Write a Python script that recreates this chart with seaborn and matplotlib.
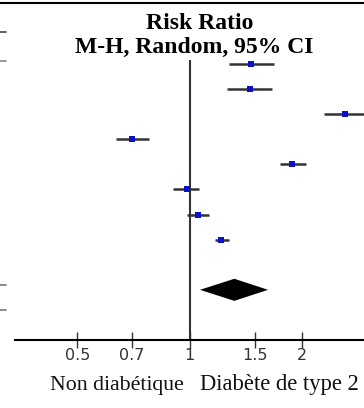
import matplotlib
matplotlib.use("Agg")
import matplotlib.pyplot as plt
from matplotlib.lines import Line2D
from matplotlib.ticker import NullLocator
import seaborn as sns
import pandas as pd

# ---- data (risk ratios) ----
rows = [0, 1, 2, 3, 4, 5, 6, 7]
rr = [1.461, 1.449, 2.611, 0.702, 1.882, 0.984, 1.053, 1.214]
ci_low = [1.278, 1.262, 2.298, 0.634, 1.748, 0.901, 0.982, 1.170]
ci_high = [1.684, 1.667, 2.967, 0.780, 2.052, 1.062, 1.129, 1.276]
pooled_row = 9
pooled_rr = 1.318
pooled_low = 1.066
pooled_high = 1.623
ticks = [0.5, 0.7, 1, 1.5, 2]
tick_labels = ["0.5", "0.7", "1", "1.5", "2"]
title_lines = ["Risk Ratio", "M-H, Random, 95% CI"]
left_label = "Non diabétique"
right_label = "Diabète de type 2"

df = pd.DataFrame({"row": rows, "rr": rr, "lo": ci_low, "hi": ci_high})

sns.set_theme(style="white")
plt.rcParams["font.family"] = ["DejaVu Sans"]

W, H = 364, 408
fig = plt.figure(figsize=(W / 100, H / 100), dpi=100)
fig.patch.set_facecolor("white")
ax = fig.add_axes([15 / W, 1 - 340 / H, 349 / W, 280 / H])
ax.set_facecolor("white")
ax.set_xscale("log")

ax.hlines(df["row"], df["lo"], df["hi"], color="#333333", lw=1.8, zorder=2)
sns.scatterplot(data=df, x="rr", y="row", marker="s", s=24, color="#0a12c8",
                linewidth=0, ax=ax, zorder=3, legend=False)
ax.fill([pooled_low, pooled_rr, pooled_high, pooled_rr],
        [pooled_row, pooled_row - 0.44, pooled_row, pooled_row + 0.44],
        color="black", lw=0, zorder=3)
ax.axvline(1, color="#333333", lw=1.5, zorder=1)

ax.set_xlim(0.340, 2.936)
ax.set_ylim(11.0, -0.16)
for s in ["top", "right", "left"]:
    ax.spines[s].set_visible(False)
ax.spines["bottom"].set_color("black")
ax.spines["bottom"].set_linewidth(1.5)
ax.set_xticks(ticks)
ax.set_xticklabels(tick_labels)
ax.xaxis.set_minor_locator(NullLocator())
ax.set_yticks([])
ax.set_xlabel("")
ax.set_ylabel("")
ax.tick_params(axis="x", direction="inout", length=12, width=1, pad=0,
               labelsize=11.5, colors="#333333", bottom=True)

serif = ["Liberation Serif", "DejaVu Serif"]
fig.text(200 / W, 1 - 29 / H, title_lines[0], ha="center", va="baseline",
         family=serif, weight="bold", size=17, color="black")
fig.text(194 / W, 1 - 53 / H, title_lines[1], ha="center", va="baseline",
         family=serif, weight="bold", size=17, color="black")
fig.text(50 / W, 1 - 390 / H, left_label, ha="left", va="baseline",
         family=serif, size=15.7, color="#111111")
fig.text(200 / W, 1 - 390 / H, right_label, ha="left", va="baseline",
         family=serif, size=16.3, color="#111111")

# frame fragments of the original table
fig.add_artist(Line2D([0, 1], [1 - 2.5 / H] * 2, color="black", lw=1.5))
for yy, c in [(31.7, "#444444"), (61, "#888888"), (285, "#777777"), (310, "#777777")]:
    fig.add_artist(Line2D([0, 6 / W], [1 - yy / H] * 2, color=c, lw=1.2))

fig.savefig("out.png", dpi=100, facecolor="white")
